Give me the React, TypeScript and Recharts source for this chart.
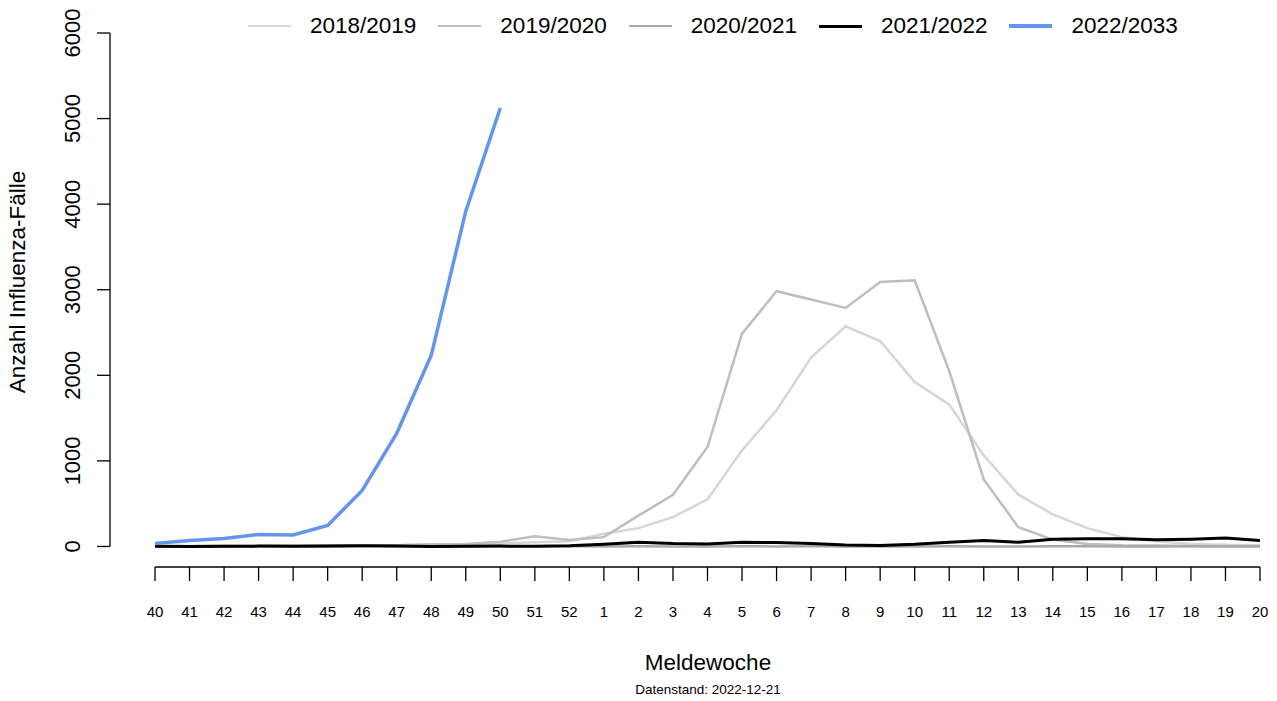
import { LineChart, Line, XAxis, YAxis, Legend, ReferenceLine, Label } from "recharts";

const weeks = [
  "40", "41", "42", "43", "44", "45", "46", "47", "48", "49", "50", "51", "52",
  "1", "2", "3", "4", "5", "6", "7", "8", "9", "10", "11", "12", "13", "14", "15", "16", "17", "18", "19", "20",
];

const s2018 = [5, 5, 5, 5, 10, 10, 10, 15, 20, 25, 35, 50, 60, 148, 214, 343, 550, 1123, 1591, 2207, 2573, 2401, 1922, 1660, 1064, 608, 374, 214, 109, 60, 30, 20, 12];
const s2019 = [3, 3, 5, 5, 8, 10, 12, 15, 25, 30, 55, 120, 75, 109, 360, 604, 1162, 2487, 2982, 2885, 2787, 3091, 3111, 2050, 784, 226, 80, 30, 15, 10, 5, 5, 5];
const s2020 = [1, 2, 1, 2, 2, 1, 2, 3, 2, 2, 1, 2, 2, 1, 2, 1, 1, 2, 1, 2, 1, 1, 1, 2, 1, 1, 2, 2, 1, 1, 2, 1, 1];
const s2021 = [2, 0, 3, 4, 2, 6, 8, 5, 0, 3, 4, 2, 8, 25, 50, 35, 30, 50, 45, 35, 18, 12, 25, 50, 70, 50, 85, 90, 90, 78, 85, 100, 70];
const s2022 = [35, 70, 94, 140, 135, 245, 655, 1322, 2234, 3918, 5123];

const yTicks = [0, 1000, 2000, 3000, 4000, 5000, 6000];

const seasons = [
  { key: "s2018", name: "2018/2019", color: "#d6d6d6", width: 2.5 },
  { key: "s2019", name: "2019/2020", color: "#bebebe", width: 2.5 },
  { key: "s2020", name: "2020/2021", color: "#a9a9a9", width: 2.5 },
  { key: "s2021", name: "2021/2022", color: "#000000", width: 3 },
  { key: "s2022", name: "2022/2033", color: "#6495ed", width: 3.5 },
];

const data = weeks.map((week, i) => ({
  x: i,
  week,
  s2018: s2018[i],
  s2019: s2019[i],
  s2020: s2020[i],
  s2021: s2021[i],
  s2022: i < s2022.length ? s2022[i] : null,
}));

const FONT = "'Liberation Sans', Arial, Helvetica, sans-serif";
const X_MIN = -1.303;
const Y_MIN = -240;

function YTick(props: any) {
  const { x, y, payload } = props;
  return (
    <text
      x={x}
      y={y}
      transform={`rotate(-90, ${x}, ${y})`}
      textAnchor="middle"
      fontSize={22}
      fontFamily={FONT}
      fill="#000"
    >
      {payload.value}
    </text>
  );
}

function SeasonLegend() {
  return (
    <div style={{ position: "relative", height: 0 }}>
      <div
        style={{
          position: "absolute",
          top: 11,
          left: 248,
          display: "flex",
          alignItems: "center",
          fontFamily: FONT,
          fontSize: 22.5,
          whiteSpace: "nowrap",
        }}
      >
        {seasons.map((s) => (
          <div key={s.key} style={{ display: "flex", alignItems: "center", marginRight: 22 }}>
            <div style={{ width: 43, height: s.width, background: s.color, marginRight: 19 }} />
            <span style={{ lineHeight: "30px" }}>{s.name}</span>
          </div>
        ))}
      </div>
    </div>
  );
}

export default function App() {
  return (
    <div style={{ position: "absolute", left: 0, top: 0, width: 1277, height: 701, background: "#fff" }}>
      <LineChart
        width={1277}
        height={701}
        data={data}
        margin={{ top: 33, right: 17, bottom: 74, left: 48 }}
      >
        <XAxis
          dataKey="x"
          type="number"
          domain={[X_MIN, 32]}
          allowDataOverflow
          ticks={weeks.map((_, i) => i)}
          tickFormatter={(v: number) => weeks[v]}
          interval={0}
          axisLine={false}
          tickLine={{ stroke: "#000", strokeWidth: 1.3 }}
          tickSize={14}
          tickMargin={25}
          height={60}
          tick={{ fontSize: 15, fill: "#000", fontFamily: FONT }}
        >
          <Label
            content={() => (
              <g fontFamily={FONT} fill="#000">
                <text x={708} y={670} textAnchor="middle" fontSize={22.5}>
                  Meldewoche
                </text>
                <text x={708} y={694} textAnchor="middle" fontSize={13.5}>
                  Datenstand: 2022-12-21
                </text>
              </g>
            )}
          />
        </XAxis>
        <YAxis
          type="number"
          domain={[Y_MIN, 6000]}
          allowDataOverflow
          ticks={yTicks}
          interval={0}
          width={62}
          axisLine={false}
          tickLine={{ stroke: "#000", strokeWidth: 1.3 }}
          tickSize={13}
          tickMargin={17}
          tick={<YTick />}
        >
          <Label
            content={() => (
              <text
                x={25}
                y={282}
                transform="rotate(-90, 25, 282)"
                textAnchor="middle"
                fontSize={22.5}
                fontFamily={FONT}
                fill="#000"
              >
                Anzahl Influenza-Fälle
              </text>
            )}
          />
        </YAxis>
        <ReferenceLine
          segment={[{ x: 0, y: Y_MIN }, { x: 32, y: Y_MIN }]}
          stroke="#000"
          strokeWidth={1.3}
          ifOverflow="visible"
        />
        <ReferenceLine
          segment={[{ x: X_MIN, y: 0 }, { x: X_MIN, y: 6000 }]}
          stroke="#000"
          strokeWidth={1.3}
          ifOverflow="visible"
        />
        <Legend verticalAlign="top" align="left" content={<SeasonLegend />} wrapperStyle={{ top: 0, left: 0 }} />
        {seasons.map((s) => (
          <Line
            key={s.key}
            type="linear"
            dataKey={s.key}
            name={s.name}
            stroke={s.color}
            strokeWidth={s.width}
            dot={false}
            activeDot={false}
            isAnimationActive={false}
          />
        ))}
      </LineChart>
    </div>
  );
}
